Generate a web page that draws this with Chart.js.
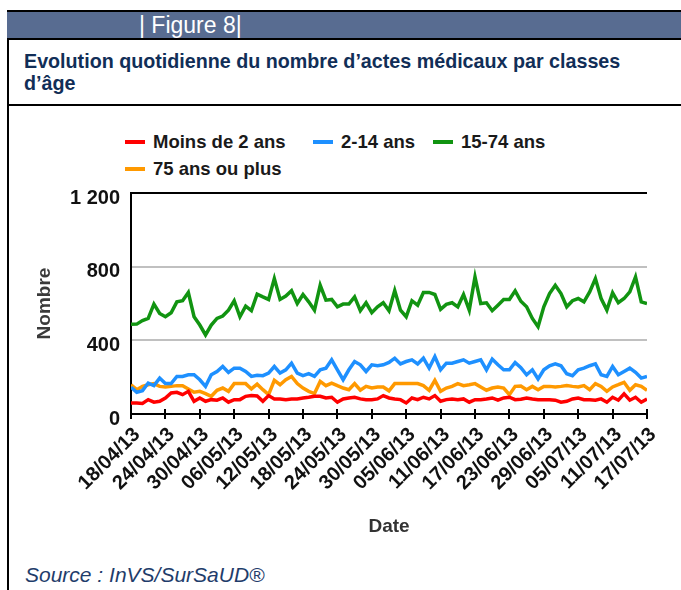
<!DOCTYPE html>
<html lang="fr">
<head>
<meta charset="utf-8">
<title>Figure 8</title>
<script src="https://cdn.jsdelivr.net/npm/chart.js@4.4.1/dist/chart.umd.min.js"></script>
<style>
  html, body { margin: 0; padding: 0; background: #fff; }
  body { width: 681px; height: 590px; position: relative; overflow: hidden; font-family: "Liberation Sans", Arial, sans-serif; }
  .frame-left { position: absolute; left: 7px; top: 10px; width: 2px; height: 580px; background: #000; }
  .header { position: absolute; left: 7px; top: 10px; right: 0; height: 26px; background: #586c91;
            border-top: 2px solid #000; border-bottom: 2px solid #000; }
  .header span { position: absolute; left: 132px; top: 0; color: #fff; font-size: 23px; line-height: 26px; }
  .title { position: absolute; left: 24px; top: 50px; width: 650px; color: #112e57; font-weight: bold;
           font-size: 19.7px; line-height: 22px; }
  .title-rule { position: absolute; left: 7px; right: 0; top: 104px; height: 2px; background: #000; }
  #legend { position: absolute; left: 125px; top: 128px; display: grid;
            grid-template-columns: 188px 120px auto; grid-auto-rows: 27px; }
  #legend .item { display: flex; align-items: center; font-size: 18.5px; font-weight: bold; color: #1a1a1a; white-space: nowrap; }
  #legend .swatch { display: inline-block; width: 20px; height: 4px; margin-right: 8px; }
  /* la zone de tracé commence ~23px sous le haut du canvas (demi-hauteur des étiquettes) */
  .chart-box { position: absolute; left: 10px; top: 170px; width: 671px; height: 390px; }
  .source { position: absolute; left: 25px; top: 563px; color: #1f3d6b; font-style: italic; font-size: 21px; }
</style>
</head>
<body>
<div class="frame-left"></div>
<div class="header"><span>| Figure 8|</span></div>
<div class="title">Evolution quotidienne du nombre d’actes médicaux par classes<br>d’âge</div>
<div class="title-rule"></div>
<div id="legend"></div>
<div class="chart-box"><canvas id="actesChart"></canvas></div>
<div class="source">Source : InVS/SurSaUD®</div>

<script>
// x = jour depuis le 18/04/13 (0..90), une étiquette tous les 6 jours
var xTickLabels = ['18/04/13', '24/04/13', '30/04/13', '06/05/13', '12/05/13', '18/05/13', '24/05/13', '30/05/13',
  '05/06/13', '11/06/13', '17/06/13', '23/06/13', '29/06/13', '05/07/13', '11/07/13', '17/07/13'];
var yTickLabels = ['0', '400', '800', '1 200'];

var seriesNames = ['Moins de 2 ans', '2-14 ans', '15-74 ans', '75 ans ou plus'];
var seriesColors = ['#ff0000', '#1e90ff', '#119411', '#ff9900'];

var moins2 = [60, 60, 57, 78, 64, 69, 87, 114, 118, 105, 123, 69, 87, 69, 78, 75, 87, 64, 78, 78,
  96, 100, 98, 69, 100, 82, 82, 78, 82, 82, 87, 91, 96, 96, 87, 91, 64, 82, 87, 91,
  82, 78, 78, 82, 100, 87, 82, 78, 60, 87, 78, 91, 82, 100, 69, 78, 82, 78, 82, 64,
  78, 78, 82, 87, 75, 87, 91, 78, 80, 87, 82, 78, 78, 78, 75, 64, 69, 82, 87, 78,
  78, 75, 82, 64, 91, 75, 109, 75, 91, 64, 82];
var ans2a14 = [145, 118, 127, 168, 154, 195, 165, 165, 204, 204, 213, 213, 186, 150, 213, 231, 258, 226, 249, 249,
  231, 204, 210, 208, 222, 258, 222, 240, 276, 222, 208, 219, 204, 240, 249, 294, 240, 186, 240, 285,
  267, 231, 267, 262, 267, 280, 303, 272, 285, 294, 272, 303, 249, 312, 240, 276, 276, 285, 294, 276,
  285, 294, 240, 298, 267, 240, 240, 280, 252, 213, 240, 190, 240, 262, 272, 262, 219, 208, 240, 249,
  262, 272, 213, 204, 258, 213, 231, 249, 226, 195, 204];
var ans15a74 = [487, 488, 507, 519, 597, 546, 528, 550, 609, 615, 660, 528, 483, 429, 483, 519, 532, 564, 615, 528,
  586, 561, 651, 636, 622, 735, 622, 640, 669, 600, 649, 609, 564, 699, 618, 622, 582, 597, 597, 636,
  561, 604, 550, 582, 604, 561, 670, 564, 528, 615, 591, 660, 660, 649, 568, 595, 604, 582, 649, 564,
  744, 600, 604, 561, 591, 622, 622, 669, 612, 582, 519, 474, 582, 654, 699, 654, 582, 615, 627, 609,
  663, 735, 627, 564, 658, 604, 627, 663, 744, 609, 600];
var ans75plus = [159, 132, 150, 159, 165, 150, 147, 150, 154, 154, 136, 118, 123, 111, 96, 129, 141, 123, 165, 165,
  165, 136, 162, 132, 105, 183, 159, 186, 204, 165, 141, 123, 111, 177, 154, 168, 154, 141, 132, 165,
  129, 150, 141, 147, 147, 126, 165, 165, 165, 165, 165, 154, 129, 183, 123, 141, 150, 165, 154, 159,
  165, 147, 129, 141, 147, 141, 105, 150, 152, 132, 150, 132, 150, 150, 147, 150, 154, 150, 147, 154,
  132, 165, 150, 123, 147, 159, 172, 129, 159, 150, 129];

function toPoints(values) {
  return values.map(function (v, i) { return { x: i, y: v }; });
}

// petits traits de graduation au-dessus de l'axe des x (ils traversent l'axe sur la figure)
var innerTicks = {
  id: 'innerTicks',
  afterDraw: function (chart) {
    var xs = chart.scales.x, c = chart.ctx;
    c.save();
    c.strokeStyle = '#000';
    c.lineWidth = 2;
    xs.ticks.forEach(function (t) {
      var px = Math.round(xs.getPixelForValue(t.value));
      c.beginPath();
      c.moveTo(px, xs.top);
      c.lineTo(px, xs.top - 5);
      c.stroke();
    });
    c.restore();
  }
};

document.addEventListener('DOMContentLoaded', function () {
  Chart.defaults.font.family = '"Liberation Sans", Arial, sans-serif';
  Chart.defaults.color = '#111';

  var allSeries = [moins2, ans2a14, ans15a74, ans75plus];
  var datasets = allSeries.map(function (values, i) {
    return {
      label: seriesNames[i],
      data: toPoints(values),
      borderColor: seriesColors[i],
      backgroundColor: seriesColors[i],
      borderWidth: 3.5,
      pointRadius: 0,
      tension: 0,
      fill: false
    };
  });

  var ctx = document.getElementById('actesChart').getContext('2d');
  var actesChart = new Chart(ctx, {
    type: 'line',
    data: { datasets: datasets },
    plugins: [innerTicks],
    options: {
      responsive: true,
      maintainAspectRatio: false,
      animation: false,
      layout: { padding: { top: 3, right: 34, bottom: 0, left: 0 } },
      plugins: {
        legend: { display: false },
        tooltip: { enabled: false }
      },
      scales: {
        x: {
          type: 'linear',
          min: 0,
          max: 90,
          afterFit: function (scale) { scale.height = 146; },
          border: { color: '#000', width: 2 },
          grid: { drawOnChartArea: false, drawTicks: true, tickLength: 5, color: '#000', lineWidth: 2 },
          ticks: {
            stepSize: 6,
            autoSkip: false,
            maxRotation: 45,
            minRotation: 45,
            padding: 4,
            labelOffset: 6,
            color: '#111',
            font: { size: 20, weight: 'bold' },
            callback: function (value) { return xTickLabels[value / 6]; }
          },
          title: {
            display: true,
            text: 'Date',
            color: '#333',
            font: { size: 19, weight: 'bold' },
            padding: { top: 0, bottom: 22 }
          }
        },
        y: {
          min: 0,
          max: 1200,
          afterFit: function (scale) { scale.width = 121; },
          border: { color: '#000', width: 2 },
          grid: {
            drawTicks: false,
            lineWidth: 2,
            color: function (c) { return c.tick && c.tick.value === 1200 ? '#000' : '#c0c0c0'; }
          },
          ticks: {
            stepSize: 400,
            padding: 11,
            labelOffset: 5,
            color: '#111',
            font: { size: 20, weight: 'bold' },
            callback: function (value) { return yTickLabels[value / 400]; }
          },
          title: {
            display: true,
            text: 'Nombre',
            color: '#3a3a3a',
            font: { size: 19, weight: 'bold' },
            padding: { top: 23, bottom: 0 }
          }
        }
      }
    }
  });

  // legende HTML (colonnes fixes comme sur la figure)
  var legend = document.getElementById('legend');
  actesChart.data.datasets.forEach(function (ds) {
    var item = document.createElement('div');
    item.className = 'item';
    var sw = document.createElement('span');
    sw.className = 'swatch';
    sw.style.background = ds.borderColor;
    item.appendChild(sw);
    item.appendChild(document.createTextNode(ds.label));
    legend.appendChild(item);
  });
});
</script>
</body>
</html>
